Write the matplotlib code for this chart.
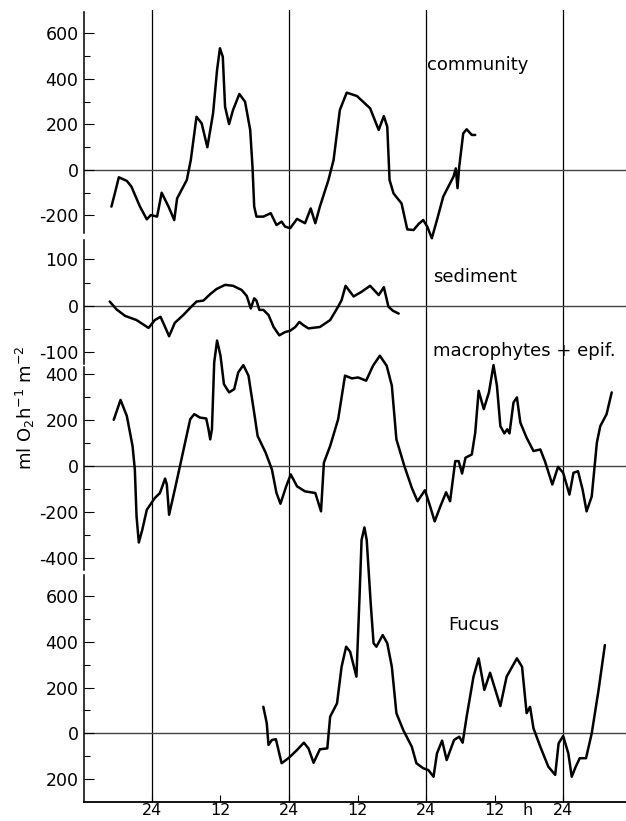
import matplotlib
matplotlib.use("Agg")
import matplotlib.pyplot as plt
from matplotlib.ticker import FixedLocator, FixedFormatter

# hours; midnights at 24, 48, 72, 96
community_t = [16.9, 17.5, 18.2, 19.6, 20.4, 21.9, 23.1, 23.8, 24.9, 25.7,
               26.9, 27.9, 28.4, 30.1, 30.8, 31.8, 32.7, 33.7, 34.7, 35.4,
               35.9, 36.4, 36.8, 37.5, 38.2, 39.3, 40.3, 41.2, 41.6, 41.9,
               42.3, 43.5, 44.8, 45.8, 46.7, 47.3, 48.2, 49.4, 50.8, 51.8,
               52.6, 53.4, 54.9, 55.8, 56.9, 58.1, 59.9, 62.2, 63.7, 64.6,
               65.2, 65.6, 66.3, 67.7, 68.7, 69.8, 70.7, 71.5, 72.2, 73.0,
               73.9, 75.0, 76.8, 77.2, 77.5, 77.8, 78.5, 79.1, 80.0, 80.6]
community_v = [-161, -103, -32, -48, -73, -161, -217, -198, -205, -100,
               -161, -220, -125, -44, 44, 234, 205, 100, 249, 440,
               535, 498, 278, 202, 264, 334, 300, 176, 15, -161,
               -205, -205, -190, -242, -227, -249, -256, -215, -234, -169,
               -234, -161, -44, 44, 264, 340, 325, 271, 176, 237,
               190, -44, -103, -147, -261, -264, -237, -220, -249, -300,
               -220, -117, -29, 7, -80, 15, 161, 179, 154, 154]

sediment_t = [16.6, 17.8, 19.3, 21.3, 23.4, 24.5, 25.5, 26.3, 27.0, 28.0,
              29.5, 30.9, 31.8, 33.0, 34.2, 35.3, 36.8, 38.2, 39.7, 40.6,
              41.3, 41.9, 42.3, 42.8, 43.5, 44.4, 45.3, 46.3, 47.3, 48.2,
              49.1, 49.8, 50.5, 51.4, 53.4, 55.2, 56.6, 57.2, 57.9, 59.3,
              60.7, 62.2, 63.7, 64.6, 65.4, 66.2, 67.2]
sediment_v = [9, -8, -22, -31, -48, -31, -24, -46, -66, -37,
              -20, -2, 9, 11, 25, 36, 45, 43, 34, 21,
              -6, 16, 11, -9, -9, -20, -46, -64, -57, -54,
              -46, -35, -42, -49, -46, -31, -2, 12, 43, 20,
              30, 43, 23, 40, -2, -11, -17]

macro_t = [17.3, 18.5, 19.6, 20.6, 21.0, 21.3, 21.7, 22.3, 23.1, 24.5,
           25.4, 26.3, 26.6, 27.0, 28.0, 28.9, 29.8, 30.7, 31.4, 32.4,
           33.5, 33.9, 34.2, 34.5, 34.9, 35.4, 36.0, 36.6, 37.5, 38.4,
           39.1, 40.0, 40.9, 41.8, 42.5, 43.9, 45.0, 45.8, 46.5, 47.5,
           48.3, 49.4, 50.8, 52.6, 53.6, 54.1, 55.2, 56.6, 57.8, 59.0,
           60.1, 61.5, 62.7, 63.9, 65.1, 66.0, 66.8, 68.2, 69.5, 70.5,
           71.8, 72.7, 73.5, 74.5, 75.5, 76.2, 77.1, 77.7, 78.3, 78.9,
           80.0, 80.6, 81.2, 82.1, 83.0, 83.8, 84.4, 85.0, 85.7, 86.2,
           86.6, 87.3, 87.9, 88.5, 89.6, 90.8, 92.0, 92.8, 94.1, 95.1,
           96.0, 97.1, 97.8, 98.6, 99.4, 100.1, 101.0, 101.9, 102.5, 103.6,
           104.5]
macro_v = [202, 289, 219, 88, -14, -219, -333, -278, -190, -139,
           -117, -54, -80, -212, -102, 0, 103, 205, 227, 212,
           208, 161, 117, 161, 453, 548, 482, 358, 322, 336,
           409, 441, 395, 249, 132, 59, -14, -117, -164, -88,
           -36, -88, -110, -117, -197, 15, 88, 205, 395, 383,
           387, 373, 438, 482, 438, 351, 117, 0, -95, -153,
           -105, -175, -241, -175, -114, -153, 22, 22, -32, 37,
           51, 146, 329, 249, 322, 441, 351, 175, 143, 161,
           143, 278, 300, 190, 124, 66, 73, 22, -80, -3,
           -29, -124, -29, -22, -102, -197, -132, 103, 175, 227,
           322]

fucus_t = [43.5, 44.1, 44.4, 45.0, 45.7, 46.7, 47.9, 49.4, 50.6, 51.4,
           52.3, 53.4, 54.7, 55.2, 56.4, 57.2, 58.0, 58.7, 59.8, 60.3,
           60.7, 61.2, 61.6, 62.3, 62.8, 63.3, 64.4, 65.2, 66.0, 66.8,
           68.0, 69.5, 70.3, 71.5, 72.4, 73.3, 73.9, 74.8, 75.6, 76.9,
           77.8, 78.4, 79.1, 80.3, 81.2, 82.2, 83.2, 85.0, 86.1, 87.9,
           88.8, 89.6, 90.2, 90.8, 92.0, 93.4, 94.6, 95.2, 96.0, 96.9,
           97.5, 98.2, 98.9, 100.0, 101.0, 102.2, 103.3]
fucus_v = [116, 44, -51, -29, -26, -131, -109, -73, -41, -66,
           -129, -70, -66, 73, 131, 291, 379, 357, 248, 569,
           846, 901, 846, 569, 394, 379, 430, 394, 291, 88,
           14, -59, -131, -153, -161, -190, -88, -32, -117, -29,
           -15, -41, 73, 248, 328, 190, 265, 119, 248, 328,
           291, 88, 116, 22, -59, -146, -182, -44, -12, -88,
           -190, -146, -109, -109, 0, 190, 386]

midnights = [24, 48, 72, 96]
x_ticks = [24, 36, 48, 60, 72, 84, 96]
x_labels = ["24", "12", "24", "12", "24", "12", "24"]

W, H = 626, 821
XLIM = (12.1, 107.0)
FS = 12.5
plt.rcParams["font.family"] = ["DejaVu Sans"]

fig = plt.figure(figsize=(W / 100, H / 100), dpi=100)


def box(top, bottom, left=84, right=626):
    return [left / W, 1 - bottom / H, (right - left) / W, (bottom - top) / H]


# full height layer for the midnight lines
bg = fig.add_axes(box(10, 802), zorder=0)
bg.set_xlim(*XLIM)
bg.set_ylim(0, 1)
bg.axis("off")
for m in midnights:
    bg.axvline(m, color="black", lw=0.9)

panels = [
    # top px, bottom px, ylim, major, labels, minor, t, v, name, name pos
    (12, 233, (-277, 694.5), [600, 400, 200, 0, -200],
     ["600", "400", "200", "0", "-200"], [500, 300, 100, -100],
     community_t, community_v, "community", (427, 70)),
    (240, 364, (-125.9, 141.9), [100, 0, -100], ["100", "0", "-100"],
     [50, -50], sediment_t, sediment_v, "sediment", (433, 282)),
    (367, 570, (-453, 432.7), [400, 200, 0, -200, -400],
     ["400", "200", "0", "-200", "-400"], [300, 100, -100, -300],
     macro_t, macro_v, "macrophytes + epif.", (433, 356)),
    (575, 802, (-300.7, 692.8), [600, 400, 200, 0, -200],
     ["600", "400", "200", "0", "200"], [500, 300, 100, -100],
     fucus_t, fucus_v, "Fucus", (448, 630)),
]

for i, (top, bot, ylim, major, labels, minor, t, v, name, pos) in enumerate(panels):
    ax = fig.add_axes(box(top, bot), zorder=2 + i)
    ax.patch.set_visible(False)
    ax.set_xlim(*XLIM)
    ax.set_ylim(*ylim)
    ax.axhline(0, color="#444444", lw=1.0, zorder=1)
    ax.plot(t, v, color="black", lw=1.8, solid_joinstyle="round",
            solid_capstyle="round", clip_on=False, zorder=3)
    for s in ["top", "right"]:
        ax.spines[s].set_visible(False)
    ax.spines["left"].set_linewidth(1.1)
    ax.yaxis.set_major_locator(FixedLocator(major))
    ax.yaxis.set_major_formatter(FixedFormatter(labels))
    ax.yaxis.set_minor_locator(FixedLocator(minor))
    ax.tick_params(axis="y", which="major", direction="in", length=7,
                   width=0.8, pad=4, labelsize=FS)
    ax.tick_params(axis="y", which="minor", direction="in", length=4,
                   width=0.8)
    last = i == len(panels) - 1
    if last:
        ax.spines["bottom"].set_linewidth(1.3)
        ax.xaxis.set_major_locator(FixedLocator(x_ticks))
        ax.xaxis.set_major_formatter(FixedFormatter(x_labels))
        ax.xaxis.set_minor_locator(FixedLocator([89.8]))
        ax.xaxis.set_minor_formatter(FixedFormatter(["h"]))
        ax.tick_params(axis="x", which="major", direction="in", length=5,
                       width=0.8, pad=1, labelsize=11.5)
        ax.tick_params(axis="x", which="minor", length=0, pad=1,
                       labelsize=11.5)
    else:
        ax.spines["bottom"].set_visible(False)
        ax.set_xticks([])
    fig.text(pos[0] / W, 1 - pos[1] / H, name, ha="left", va="baseline",
             fontsize=13)

fig.text(25 / W, 1 - 408 / H, r"ml O$_2$h$^{-1}$ m$^{-2}$", rotation=90,
         ha="center", va="center", fontsize=13)

fig.savefig("out.png", dpi=100)
